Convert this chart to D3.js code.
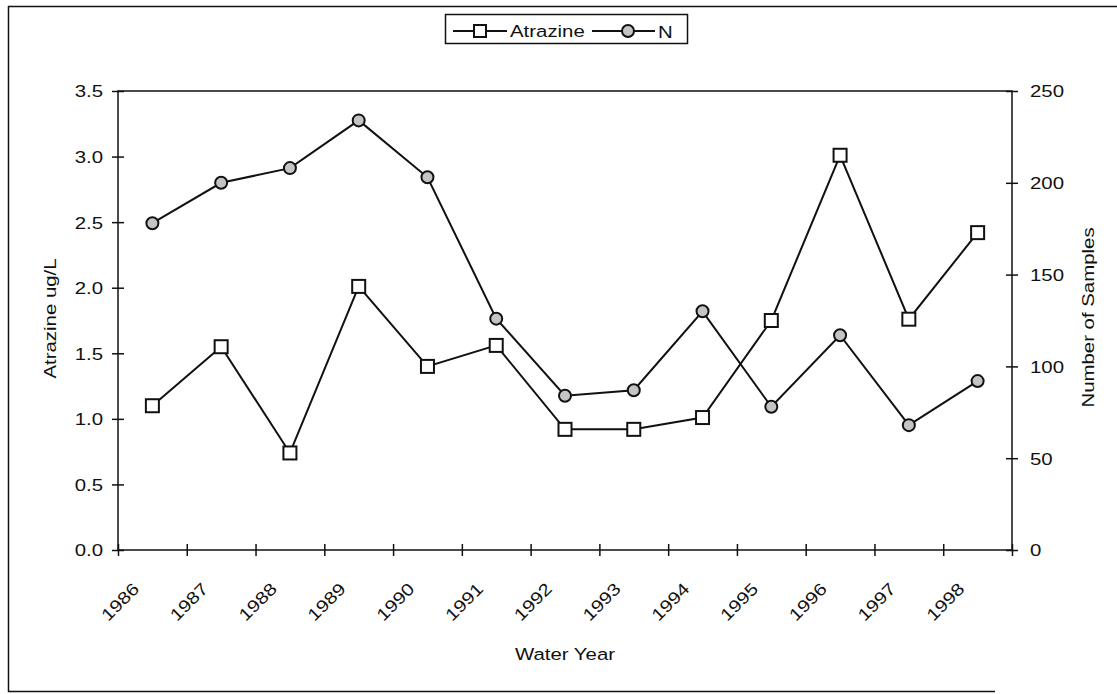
<!DOCTYPE html>
<html>
<head>
<meta charset="utf-8">
<script src="https://cdn.jsdelivr.net/npm/d3@7"></script>
<style>
  body { margin: 0; background: #fff; }
  svg text { font-family: "Liberation Sans", Arial, sans-serif; fill: #111; }
</style>
</head>
<body>
<div id="chart"></div>
<script>
// data
let years = ['1986', '1987', '1988', '1989', '1990', '1991', '1992',
             '1993', '1994', '1995', '1996', '1997', '1998'];
let atrazine = [1.10, 1.55, 0.74, 2.01, 1.40, 1.56, 0.92, 0.92, 1.01, 1.75, 3.01, 1.76, 2.42];
let samples = [178, 200, 208, 234, 203, 126, 84, 87, 130, 78, 117, 68, 92];
let leftTicks = [0, 0.5, 1.0, 1.5, 2.0, 2.5, 3.0, 3.5];
let rightTicks = [0, 50, 100, 150, 200, 250];

let svgWidth = 1117,
    svgHeight = 694;

// plot area
let plotLeft = 118, plotRight = 1012, plotTop = 91, plotBottom = 550;
let stretch = 'scale(1.2,1)';

let svg = d3.select('#chart')
    .append('svg')
    .attr('width', svgWidth)
    .attr('height', svgHeight);

// outer frame (open on the right, like the scan)
svg.append('path')
    .attr('d', 'M1117,6.5 H8.5 V691.5 H995')
    .attr('fill', 'none')
    .attr('stroke', '#111')
    .attr('stroke-width', 1.5);

let x = d3.scaleBand().domain(years).range([plotLeft, plotRight]);
let xEdge = d3.scaleLinear().domain([0, years.length]).range([plotLeft, plotRight]);
let yLeft = d3.scaleLinear().domain([0, 3.5]).range([plotBottom, plotTop]);
let yRight = d3.scaleLinear().domain([0, 250]).range([plotBottom, plotTop]);

// plot box
svg.append('rect')
    .attr('x', plotLeft).attr('y', plotTop)
    .attr('width', plotRight - plotLeft).attr('height', plotBottom - plotTop)
    .attr('fill', 'none')
    .attr('stroke', '#111')
    .attr('stroke-width', 1.5);

// x axis: ticks at category edges, labels at centres
let xTicks = svg.append('g')
    .attr('transform', `translate(0,${plotBottom})`)
    .call(d3.axisBottom(xEdge).tickValues(d3.range(years.length + 1)).tickSize(6).tickFormat(''));
xTicks.select('.domain').remove();
xTicks.selectAll('line').attr('y1', -6).attr('stroke', '#111').attr('stroke-width', 1.5);

let xLabels = svg.append('g')
    .attr('transform', `translate(0,${plotBottom})`)
    .call(d3.axisBottom(x).tickSize(0));
xLabels.select('.domain').remove();
xLabels.selectAll('text')
    .attr('x', 0).attr('y', 0).attr('dy', 0)
    .attr('text-anchor', 'end')
    .attr('transform', `translate(-12,40) rotate(-45) ${stretch}`)
    .style('font-size', '17px');

// left axis
let gl = svg.append('g')
    .attr('transform', `translate(${plotLeft},0)`)
    .call(d3.axisLeft(yLeft).tickValues(leftTicks).tickSize(6).tickFormat(d3.format('.1f')));
gl.select('.domain').remove();
gl.selectAll('line').attr('x2', 6).attr('x1', -6).attr('stroke', '#111').attr('stroke-width', 1.5);
gl.selectAll('text')
    .attr('x', 0).attr('dy', '0.35em')
    .attr('transform', `translate(-15,0) ${stretch}`)
    .style('font-size', '17px');

// right axis
let gr = svg.append('g')
    .attr('transform', `translate(${plotRight},0)`)
    .call(d3.axisRight(yRight).tickValues(rightTicks).tickSize(6));
gr.select('.domain').remove();
gr.selectAll('line').attr('x1', -6).attr('x2', 6).attr('stroke', '#111').attr('stroke-width', 1.5);
gr.selectAll('text')
    .attr('x', 0).attr('dy', '0.35em')
    .attr('transform', `translate(18,0) ${stretch}`)
    .style('font-size', '17px');

// axis titles
svg.append('text')
    .attr('text-anchor', 'middle')
    .attr('transform', `translate(565,660) ${stretch}`)
    .style('font-size', '17px')
    .text('Water Year');

svg.append('text')
    .attr('text-anchor', 'middle')
    .attr('transform', `translate(56,${(plotTop + plotBottom) / 2 - 2}) rotate(-90) ${stretch}`)
    .style('font-size', '17px')
    .text('Atrazine ug/L');

svg.append('text')
    .attr('text-anchor', 'middle')
    .attr('transform', `translate(1094,${(plotTop + plotBottom) / 2 - 3}) rotate(-90) ${stretch}`)
    .style('font-size', '17px')
    .text('Number of Samples');

let cx = d => x(d) + x.bandwidth() / 2;

// N series (right axis)
let nLine = d3.line()
    .x((d, i) => cx(years[i]))
    .y(d => yRight(d));

svg.append('path')
    .datum(samples)
    .attr('d', nLine)
    .attr('fill', 'none')
    .attr('stroke', '#111')
    .attr('stroke-width', 2);

// Atrazine series (left axis)
let aLine = d3.line()
    .x((d, i) => cx(years[i]))
    .y(d => yLeft(d));

svg.append('path')
    .datum(atrazine)
    .attr('d', aLine)
    .attr('fill', 'none')
    .attr('stroke', '#111')
    .attr('stroke-width', 2);

svg.append('g')
    .selectAll('circle')
    .data(samples)
    .enter()
    .append('circle')
    .attr('cx', (d, i) => cx(years[i]))
    .attr('cy', d => yRight(d))
    .attr('r', 6)
    .attr('fill', '#c4c4c4')
    .attr('stroke', '#111')
    .attr('stroke-width', 2);

svg.append('g')
    .selectAll('rect')
    .data(atrazine)
    .enter()
    .append('rect')
    .attr('x', (d, i) => cx(years[i]) - 6.5)
    .attr('y', d => yLeft(d) - 6.5)
    .attr('width', 13)
    .attr('height', 13)
    .attr('fill', '#fff')
    .attr('stroke', '#111')
    .attr('stroke-width', 2);

// legend
let legend = svg.append('g');
legend.append('rect')
    .attr('x', 445.5).attr('y', 14.5)
    .attr('width', 242).attr('height', 29)
    .attr('fill', '#fff')
    .attr('stroke', '#111')
    .attr('stroke-width', 1.5);

legend.append('line')
    .attr('x1', 453).attr('x2', 507).attr('y1', 31).attr('y2', 31)
    .attr('stroke', '#111').attr('stroke-width', 2);
legend.append('rect')
    .attr('x', 474).attr('y', 25).attr('width', 12).attr('height', 12)
    .attr('fill', '#fff').attr('stroke', '#111').attr('stroke-width', 2);
legend.append('text')
    .attr('transform', `translate(510,37) ${stretch}`)
    .style('font-size', '17px')
    .text('Atrazine');

legend.append('line')
    .attr('x1', 592).attr('x2', 655).attr('y1', 31).attr('y2', 31)
    .attr('stroke', '#111').attr('stroke-width', 2);
legend.append('circle')
    .attr('cx', 628).attr('cy', 31).attr('r', 6)
    .attr('fill', '#c4c4c4').attr('stroke', '#111').attr('stroke-width', 2);
legend.append('text')
    .attr('transform', `translate(658,38) ${stretch}`)
    .style('font-size', '17px')
    .text('N');
</script>
</body>
</html>
